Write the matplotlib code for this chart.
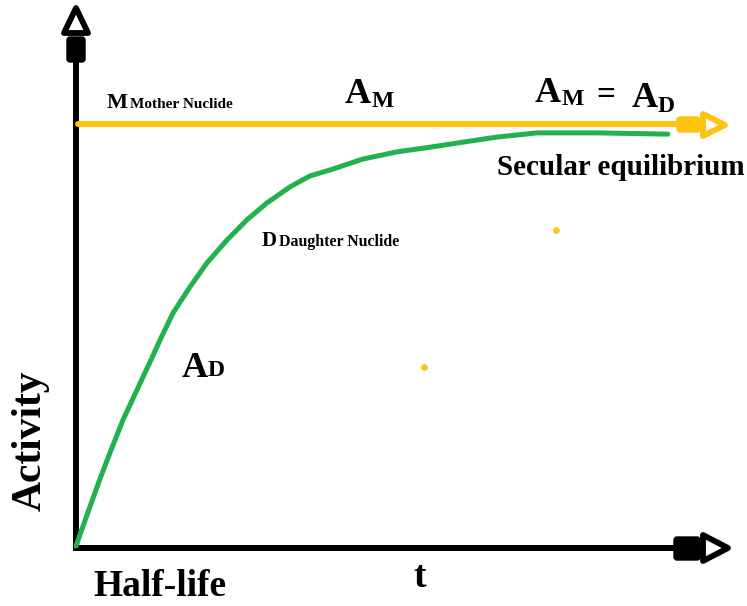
import matplotlib.pyplot as plt
from matplotlib.patches import FancyBboxPatch, Polygon

# daughter activity (green), relative to mother activity
t_daughter = [0, 0.198, 0.398, 0.593, 0.797, 1.034, 1.271, 1.424, 1.644, 1.932,
              2.220, 2.559, 2.898, 3.237, 3.627, 3.966, 4.305, 4.864, 5.441,
              6.000, 6.559, 7.136, 7.814, 8.831, 10.03]
a_daughter = [0, 0.078, 0.156, 0.227, 0.299, 0.370, 0.441, 0.488, 0.552, 0.614,
              0.671, 0.725, 0.773, 0.813, 0.851, 0.877, 0.891, 0.917, 0.934,
              0.945, 0.957, 0.969, 0.979, 0.979, 0.976]

# mother activity (orange), constant
t_mother = [0.03, 10.25]
a_mother = [1.0, 1.0]

# stray orange dots in the drawing
t_dots = [5.9, 8.14]
a_dots = [0.424, 0.749]

ORANGE = '#FFC20E'
GREEN = '#22B14C'
FONT = 'Liberation Serif'

fig = plt.figure(figsize=(7.47, 6.06), dpi=100)

# pixel overlay for the hand drawn axes and labels
deco = fig.add_axes([0, 0, 1, 1])
deco.set_xlim(0, 747)
deco.set_ylim(606, 0)
deco.axis('off')

# axes lines
deco.plot([76, 76], [548, 60], color='black', lw=4.3, solid_capstyle='butt')
deco.plot([73, 680], [548, 548], color='black', lw=4.3, solid_capstyle='butt')

def arrow_head(block, tri, color):
    x0, y0, x1, y1 = block
    deco.add_patch(FancyBboxPatch((x0, y0), x1 - x0, y1 - y0,
                                  boxstyle='round,pad=0,rounding_size=3',
                                  fc=color, ec=color, lw=1))
    deco.add_patch(Polygon(tri, closed=True, fc='white', ec=color,
                           lw=4.2, joinstyle='round'))

arrow_head((67, 37, 85, 62), [(76, 8), (64, 33), (88, 33)], 'black')
arrow_head((674, 537, 700, 560), [(728, 548), (703, 535), (703, 561)], 'black')

# data axes
ax = fig.add_axes([76 / 747, 60 / 606, 590 / 747, 422 / 606])
ax.set_xlim(0, 10)
ax.set_ylim(0, 1)
ax.axis('off')
ax.patch.set_alpha(0)

ax.plot(t_mother, a_mother, color=ORANGE, lw=4.3, solid_capstyle='round', clip_on=False)
ax.plot(t_daughter, a_daughter, color=GREEN, lw=3.6, solid_capstyle='round',
        solid_joinstyle='round', clip_on=False)
ax.scatter(t_dots, a_dots, s=14, color=ORANGE, clip_on=False)

arrow_head((677, 117, 700, 132), [(725, 125), (703, 114), (703, 136)], ORANGE)

def txt(x, y, s, size, **kw):
    deco.text(x, y, s, fontsize=size, family=FONT, fontweight='bold',
              va='baseline', **kw)

txt(107, 108, 'M', 16)
txt(130, 108, 'Mother Nuclide', 11)
txt(345, 103, 'A', 26)
txt(372, 107, 'M', 17)
txt(535, 102, 'A', 26)
txt(562, 105, 'M', 17)
txt(596, 104, '=', 24)
txt(632, 107, 'A', 26)
txt(658, 112, 'D', 17)
txt(497, 175, 'Secular equilibrium', 21)
txt(262, 246, 'D', 15)
txt(279, 246, 'Daughter Nuclide', 11.4)
txt(182, 377, 'A', 26)
txt(208, 376, 'D', 17)
txt(93, 596, 'Half-life', 27)
txt(413, 587, 't', 27)
deco.text(31, 441, 'Activity', fontsize=30, family=FONT, fontweight='bold',
          rotation=90, ha='center', va='center')

fig.savefig('out.png', dpi=100)
